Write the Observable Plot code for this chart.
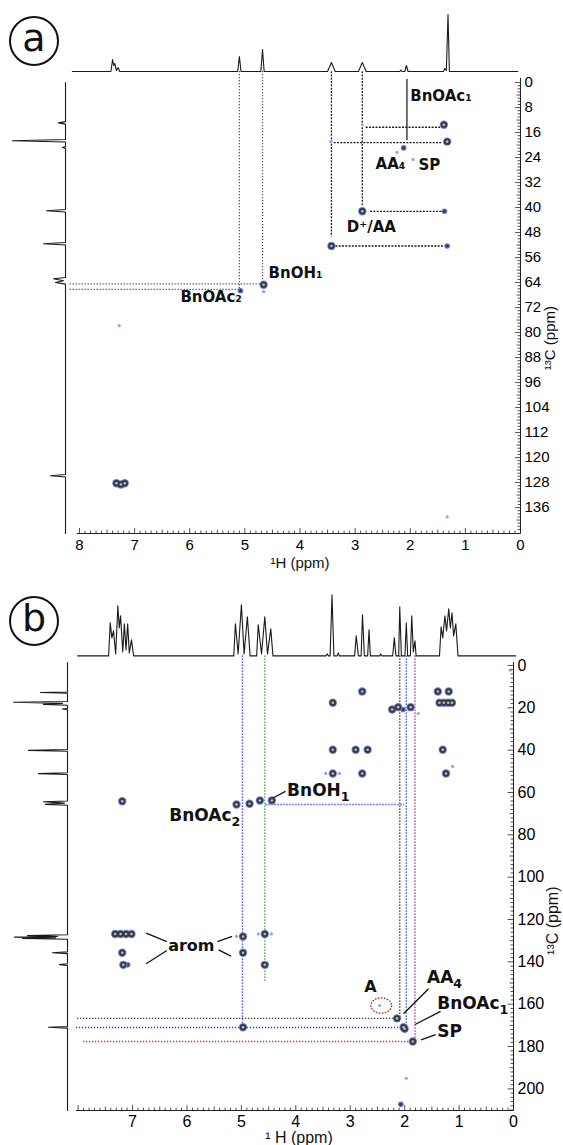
<!DOCTYPE html>
<html>
<head>
<meta charset="utf-8">
<script src="https://cdn.jsdelivr.net/npm/d3@7"></script>
<script src="https://cdn.jsdelivr.net/npm/@observablehq/plot@0.6"></script>
<style>
html,body{margin:0;padding:0;background:#fff;}
#wrap{position:relative;width:563px;height:1145px;overflow:hidden;background:#fff;}
.circ{position:absolute;box-sizing:border-box;width:50px;height:50px;border:2px solid #111;border-radius:50%;
 font-family:"DejaVu Sans",sans-serif;font-size:38px;color:#111;text-align:center;line-height:40px;}
</style>
</head>
<body>
<div id="wrap">
<div class="circ" style="left:9px;top:16px;">a</div>
<div class="circ" style="left:9px;top:596px;">b</div>
</div>
<script>
// ================= DATA : panel (a) =================
const a_xTickLabels = [8, 7, 6, 5, 4, 3, 2, 1, 0];
const a_yTickLabels = [0, 8, 16, 24, 32, 40, 48, 56, 64, 72, 80, 88, 96, 104, 112, 120, 128, 136];
// 1H projection (top): [ppm, intensity]
const a_topSpectrum = [[8.13,0],[7.43,0],[7.40,12],[7.38,6],[7.36,8],[7.33,1],[7.30,4],[7.27,0],
  [5.13,0],[5.10,15],[5.07,0],[4.71,0],[4.68,22],[4.65,0],[3.50,0],[3.43,9],[3.36,0],
  [2.94,0],[2.87,9],[2.80,0],[2.19,0],[2.17,1.5],[2.15,0],[2.10,0],[2.07,6],[2.04,0],
  [1.40,0],[1.37,3],[1.345,1],[1.315,57],[1.29,0],[0.05,0]];
// 13C projection (left): [ppm, intensity]
const a_leftSpectrum = [[0,0],[12.5,0],[12.9,7],[13.3,0],[18.2,0],[18.6,53],[19.0,0],[20.5,0],[20.8,3],[21.1,0],
  [40.6,0],[41.0,19],[41.4,0],[51.2,0],[51.6,22],[52.0,0],[62.4,0],[62.8,12],[63.4,2],[64.0,10],[64.5,0],
  [125.4,0],[125.8,15],[126.2,0],[144.3,0]];
// cross peaks: [1H ppm, 13C ppm, intensity level]
const a_peaks = [[1.39,13.5,3],[1.33,18.9,3],[2.12,20.9,2],[2.24,22.3,1],[1.95,24.6,1],[2.87,13.5,1],[3.44,18.9,1],
  [2.87,41.2,3],[1.38,41.2,2],[3.43,52.3,3],[1.33,52.3,2],[4.66,64.7,3],[4.66,66.9,1],[5.08,66.6,2],[7.28,77.8,1],
  [7.33,128.2,3],[7.25,128.6,3],[7.18,128.2,3],[1.33,139,1]];
// correlation guides
const a_dotV = [[5.10, 66.2], [4.68, 64.4]];               // [1H, 13C end]
const a_dotH = [[66.2, 5.10], [64.4, 4.68]];               // [13C, 1H end]
const a_dashV = [[3.43, 49.5], [2.87, 39.6]];              // [1H, 13C end]
const a_dashH = [[52.3, 3.35, 1.37], [41.2, 2.72, 1.42], [19.2, 3.38, 1.43], [14.3, 2.80, 1.45]];
const a_solidV = [[2.06, -1.0, 18.6]];
const a_labels = [["BnOAc₁", 2.00, 4.2], ["AA₄", 2.63, 26.0], ["SP", 1.85, 26.3], ["D⁺/AA", 3.15, 46.3],
  ["BnOH₁", 4.57, 61.1], ["BnOAc₂", 6.17, 68.7]];

// ================= DATA : panel (b) =================
const b_xTickLabels = [7, 6, 5, 4, 3, 2, 1, 0];
const b_yTickLabels = [0, 20, 40, 60, 80, 100, 120, 140, 160, 180, 200];
const b_topSpectrum = [[8.01,0],[7.44,0],[7.41,33],[7.38,18],[7.35,25],[7.31,2],[7.27,50],[7.245,28],[7.22,40],[7.18,4],
  [7.15,32],[7.12,6],[7.09,32],[7.06,3],[7.02,16],[6.98,0],
  [5.14,0],[5.11,32],[5.06,2],[5.00,51],[4.95,2],[4.89,39],[4.84,0],[4.72,0],[4.69,31],[4.63,2],[4.57,39],[4.52,2],[4.46,27],[4.42,0],
  [3.45,0],[3.42,2],[3.40,0],[3.37,0],[3.335,61],[3.30,0],[3.24,0],[3.22,3],[3.20,0],
  [2.92,0],[2.89,20],[2.85,0],[2.80,0],[2.775,41],[2.74,0],[2.68,0],[2.655,26],[2.63,0],
  [2.46,0],[2.44,2],[2.42,0],
  [2.22,0],[2.19,18],[2.16,0],[2.11,0],[2.09,49],[2.06,0],[1.995,0],[1.97,33],[1.945,0],[1.895,0],[1.87,40],[1.84,4],[1.81,15],[1.79,0],
  [1.36,0],[1.33,29],[1.30,18],[1.26,40],[1.23,25],[1.19,47],[1.16,28],[1.13,43],[1.10,20],[1.06,32],[1.02,0],[-0.04,0]];
const b_leftSpectrum = [[-1.4,0],[12.5,0],[12.8,27],[13.1,0],[17.0,0],[17.4,54],[17.9,5],[18.4,24],[18.8,0],[20.3,0],[20.6,5],[20.9,0],
  [39.7,0],[40.1,39],[40.5,0],[50.7,0],[51.1,29],[51.5,0],[64.0,0],[64.4,24],[65.0,3],[65.6,22],[66.0,0],
  [127.2,0],[127.6,40],[128.0,10],[128.3,53],[128.6,12],[128.9,45],[129.3,0],[135.3,0],[135.7,15],[136.1,0],
  [140.9,0],[141.3,8],[141.7,0],[170.5,0],[170.9,19],[171.3,0],[210.2,0]];
const b_peaks = [[7.19,64.1,3],[5.09,65.7,3],[4.85,65.3,3],[4.66,63.8,3],[4.44,63.8,3],
  [3.32,17.6,3],[2.78,12.3,3],[3.32,39.8,3],[2.90,39.8,3],[2.68,39.8,3],
  [3.32,51.0,3],[3.45,51.0,1],[3.20,51.0,1],[2.78,51.0,3],
  [2.23,20.8,3],[2.12,19.7,3],[2.03,20.8,2],[1.89,19.7,3],[1.75,22.7,1],
  [1.39,12.3,3],[1.19,12.3,3],[1.36,17.6,3],[1.28,17.6,3],[1.20,17.6,3],[1.13,17.6,3],
  [1.30,39.8,3],[1.24,51.0,3],[1.12,47.7,1],
  [7.32,126.8,3],[7.22,126.8,3],[7.12,126.8,3],[7.02,126.8,3],
  [7.19,135.7,3],[7.17,141.4,3],[7.09,141.4,2],
  [4.97,128.0,3],[5.09,128.0,1],[4.97,135.7,3],
  [4.57,126.8,3],[4.69,126.8,1],[4.45,126.8,1],[4.57,141.4,3],
  [4.97,170.9,3],[2.14,166.7,3],[2.02,170.9,3],[2.00,171.6,3],[1.85,177.6,3],
  [2.46,160.6,1],[1.97,195.0,1],[2.07,207.3,2],[0.06,2.2,1]];
// guides: group -> BnOAc (blue), BnOH (green), AA4 (black), SP (magenta)
const b_guideV = [[4.98,170.9,"BnOAc"],[4.57,150.0,"BnOH"],[2.09,166.7,"AA4"],[1.97,171.0,"BnOAc"],[1.81,177.6,"SP"]];
const b_guideH = [[65.7,4.55,2.00,"BnOAc"],[166.7,8.01,2.14,"AA4"],[171.0,8.03,2.02,"BnOAc"],[177.6,7.90,1.81,"SP"]];
const b_labelsStart = [["BnOH₁",4.16,59.0],["AA₄",1.59,147.4],["BnOAc₁",1.40,159.7],["SP",1.40,172.9]];
const b_labelsEnd = [["BnOAc₂",5.02,70.9]];
const b_labelsMid = [["arom",5.92,132.3],["A",2.63,152.0]];
const b_leaders = [[4.42,62.6,4.19,59.5],[6.75,126.4,6.37,130.4],[6.75,140.9,6.37,134.6],[5.44,130.4,5.17,128.0],
  [5.42,134.3,5.19,137.3],[1.56,152.7,2.02,164.5],[1.34,163.4,1.81,169.6],[1.43,174.4,1.70,176.8]];
const b_circled = [[2.43,160.6]];

// ================= RENDERING =================
const FONT_TICK = "'Liberation Sans', Arial, sans-serif";
const FONT_LAB = "'DejaVu Sans', sans-serif";
const groupColor = {BnOAc: "#2e2ef0", BnOH: "#2a9e2a", AA4: "#2a2a2a", SP: "#a01f98"};
const wrap = document.getElementById("wrap");
const baseStyle = {background: "transparent", overflow: "visible"};
function place(svg, top) {
  svg.style.position = "absolute"; svg.style.left = "0px"; svg.style.top = top + "px";
  wrap.appendChild(svg);
}
// render Unicode subscripts of panel (b) labels as larger lowered digits (still real text)
function enlargeSubs(svg) {
  const map = {"₁": "1", "₂": "2", "₄": "4"};
  svg.querySelectorAll("text").forEach(t => {
    const s = t.textContent;
    const m = s.match(/^(.*?)([₁₂₄]+)$/);
    if (!m || t.children.length) return;
    t.textContent = m[1];
    const ts = document.createElementNS("http://www.w3.org/2000/svg", "tspan");
    ts.setAttribute("font-size", "74%");
    ts.setAttribute("dy", "0.38em");
    ts.textContent = m[2].split("").map(c => map[c]).join("");
    t.appendChild(ts);
  });
  return svg;
}
const tickUp = {draw(c, l) { c.moveTo(0, 0); c.lineTo(0, -l); }};
const tickLeft = {draw(c, l) { c.moveTo(0, 0); c.lineTo(-l, 0); }};
const ellipseSym = {draw(c, size) {
  const r = Math.sqrt(size / Math.PI), rx = r * 1.15, ry = r * 0.85, k = 0.5523;
  c.moveTo(rx, 0);
  c.bezierCurveTo(rx, ry * k, rx * k, ry, 0, ry);
  c.bezierCurveTo(-rx * k, ry, -rx, ry * k, -rx, 0);
  c.bezierCurveTo(-rx, -ry * k, -rx * k, -ry, 0, -ry);
  c.bezierCurveTo(rx * k, -ry, rx, -ry * k, rx, 0);
  c.closePath();
}};
function xTickMarks(vals, yAt, len) {
  return Plot.vector(vals, {x: d => d, y: () => yAt, length: len, shape: tickUp, anchor: "start", stroke: "#222", strokeWidth: 0.8});
}
function yTickMarks(vals, xAt, len) {
  return Plot.vector(vals, {x: () => xAt, y: d => d, length: len, shape: tickLeft, anchor: "start", stroke: "#222", strokeWidth: 0.8});
}
function peakMarks(peaks) {
  const weak = peaks.filter(p => p[2] === 1), mid = peaks.filter(p => p[2] === 2), strong = peaks.filter(p => p[2] === 3);
  const o = {x: d => d[0], y: d => d[1]};
  return [
    Plot.dot(weak, {...o, r: 1.6, fill: "#8fa6ec"}),
    Plot.dot(mid, {...o, r: 2.8, fill: "#5b74de"}),
    Plot.dot(mid, {...o, r: 1.6, fill: "#3d3d4a"}),
    Plot.dot(strong, {...o, r: 4.2, fill: "#6a82e4"}),
    Plot.dot(strong, {...o, r: 3.2, fill: "#3a3a3a"}),
    Plot.dot(strong, {...o, r: 1.3, fill: "#bdbdbd"})
  ];
}
function steps(lo, hi, step) { const out = []; for (let i = Math.round(lo / step); i * step <= hi + 1e-9; i++) out.push(+(i * step).toFixed(4)); return out; }

// ---------- Panel (a) ----------
const A_X = [8, 0], A_Y = [-1.3, 144.3], A_TOPC = -3.5, A_LEFTH = 8.17;
const aM = {width: 563, height: 580, marginLeft: 79, marginRight: 43, marginTop: 78, marginBottom: 47};
const axMinor = steps(0, 8, 0.1);
const ayMinor = steps(0, 144, 1);
place(Plot.plot({
  ...aM, style: baseStyle,
  x: {domain: A_X}, y: {domain: A_Y, reverse: true},
  marks: [
    Plot.ruleX(a_dotV, {x: d => d[0], y1: A_TOPC, y2: d => d[1], stroke: "#222", strokeDasharray: "1,2", strokeWidth: 1.2}),
    Plot.ruleY(a_dotH, {y: d => d[0], x1: A_LEFTH, x2: d => d[1], stroke: "#222", strokeDasharray: "1,2", strokeWidth: 1.2}),
    Plot.ruleX(a_dashV, {x: d => d[0], y1: A_TOPC, y2: d => d[1], stroke: "#1a1a1a", strokeDasharray: "2,1.3", strokeWidth: 1.3}),
    Plot.ruleY(a_dashH, {y: d => d[0], x1: d => d[1], x2: d => d[2], stroke: "#1a1a1a", strokeDasharray: "2,1.3", strokeWidth: 1.3}),
    Plot.ruleX(a_solidV, {x: d => d[0], y1: d => d[1], y2: d => d[2], stroke: "#222", strokeWidth: 1.3}),
    ...peakMarks(a_peaks),
    Plot.text(a_labels, {x: d => d[1], y: d => d[2], text: d => d[0], textAnchor: "start", fontFamily: FONT_LAB, fontWeight: "bold", fontSize: 15, fill: "#111"}),
    Plot.ruleY([A_Y[1]], {x1: 8.04, x2: 0, stroke: "#222"}),
    Plot.ruleX([0], {y1: A_Y[0], y2: A_Y[1], stroke: "#222"}),
    xTickMarks(axMinor.filter(v => Math.abs(v * 2 - Math.round(v * 2)) > 1e-6), A_Y[1], 2.5),
    xTickMarks(axMinor.filter(v => Math.abs(v * 2 - Math.round(v * 2)) < 1e-6 && Math.abs(v - Math.round(v)) > 1e-6), A_Y[1], 3.5),
    xTickMarks(a_xTickLabels, A_Y[1], 5),
    yTickMarks(ayMinor.filter(v => v % 4 !== 0), 0, 2.5),
    yTickMarks(ayMinor.filter(v => v % 4 === 0 && v % 8 !== 0), 0, 3.5),
    yTickMarks(a_yTickLabels, 0, 5),
    Plot.axisX(a_xTickLabels, {anchor: "bottom", tickSize: 0, tickPadding: 6, fontSize: 15, fontFamily: FONT_TICK, label: null, tickFormat: d => String(d)}),
    Plot.axisY(a_yTickLabels, {anchor: "right", tickSize: 0, tickPadding: 4, fontSize: 15, fontFamily: FONT_TICK, label: null, tickFormat: d => String(d)}),
    Plot.text(["¹H (ppm)"], {frameAnchor: "bottom", dy: 34, text: d => d, fontSize: 15, fontFamily: FONT_TICK, fill: "#111"}),
    Plot.text(["¹³C (ppm)"], {frameAnchor: "right", dx: 30, rotate: -90, text: d => d, fontSize: 15, fontFamily: FONT_TICK, fill: "#111"})
  ]
}), 0);
place(Plot.plot({
  width: 563, height: 580, marginLeft: 79, marginRight: 43, marginTop: 11, marginBottom: 509, style: baseStyle,
  x: {domain: A_X, axis: null}, y: {domain: [0, 60], axis: null},
  marks: [Plot.line(a_topSpectrum, {x: d => d[0], y: d => d[1], stroke: "#1a1a1a", strokeWidth: 1.1})]
}), 0);
place(Plot.plot({
  width: 563, height: 580, marginLeft: 10, marginRight: 498, marginTop: 78, marginBottom: 47, style: baseStyle,
  x: {domain: [0, 55], reverse: true, axis: null}, y: {domain: A_Y, reverse: true, axis: null},
  marks: [Plot.line(a_leftSpectrum, {x: d => d[1], y: d => d[0], stroke: "#1a1a1a", strokeWidth: 1.1})]
}), 0);

// ---------- Panel (b) ----------
const B_X = [8.03, 0], B_Y = [-1.4, 210.2], B_TOPC = -4.5;
const bM = {width: 563, height: 565, marginLeft: 76, marginRight: 50, marginTop: 82, marginBottom: 35};
const bxMinor = steps(0, 8, 0.1);
const byMinor = steps(0, 210, 2);
place(enlargeSubs(Plot.plot({
  ...bM, style: baseStyle,
  x: {domain: B_X}, y: {domain: B_Y, reverse: true},
  marks: [
    Plot.ruleX(b_guideV, {x: d => d[0], y1: B_TOPC, y2: d => d[1], stroke: d => groupColor[d[2]], strokeDasharray: "1.2,1.8", strokeWidth: 1.4}),
    Plot.ruleY(b_guideH, {y: d => d[0], x1: d => d[1], x2: d => d[2], stroke: d => groupColor[d[3]], strokeDasharray: "1.2,1.8", strokeWidth: 1.4}),
    ...peakMarks(b_peaks),
    Plot.dot(b_circled, {x: d => d[0], y: d => d[1], r: 9, symbol: ellipseSym, stroke: "#b03030", strokeDasharray: "1.6,1.4", strokeWidth: 1.4, fill: "none"}),
    Plot.link(b_leaders, {x1: d => d[0], y1: d => d[1], x2: d => d[2], y2: d => d[3], stroke: "#111", strokeWidth: 1.3}),
    Plot.text(b_labelsStart, {x: d => d[1], y: d => d[2], text: d => d[0], textAnchor: "start", fontFamily: FONT_LAB, fontWeight: "bold", fontSize: 17, fill: "#111"}),
    Plot.text(b_labelsEnd, {x: d => d[1], y: d => d[2], text: d => d[0], textAnchor: "end", fontFamily: FONT_LAB, fontWeight: "bold", fontSize: 17, fill: "#111"}),
    Plot.text(b_labelsMid, {x: d => d[1], y: d => d[2], text: d => d[0], textAnchor: "middle", fontFamily: FONT_LAB, fontWeight: "bold", fontSize: 16, fill: "#111"}),
    Plot.ruleY([B_Y[1]], {x1: B_X[0], x2: 0, stroke: "#222"}),
    Plot.ruleX([0], {y1: B_Y[0], y2: B_Y[1], stroke: "#222"}),
    xTickMarks(bxMinor.filter(v => Math.abs(v * 2 - Math.round(v * 2)) > 1e-6), B_Y[1], 2.5),
    xTickMarks(bxMinor.filter(v => Math.abs(v * 2 - Math.round(v * 2)) < 1e-6 && Math.abs(v - Math.round(v)) > 1e-6), B_Y[1], 3.5),
    xTickMarks([8, ...b_xTickLabels], B_Y[1], 5),
    yTickMarks(byMinor.filter(v => v % 10 !== 0), 0, 2.5),
    yTickMarks(byMinor.filter(v => v % 10 === 0 && v % 20 !== 0), 0, 3.5),
    yTickMarks(b_yTickLabels, 0, 5.5),
    Plot.axisX(b_xTickLabels, {anchor: "bottom", tickSize: 0, tickPadding: 5, fontSize: 16, fontFamily: FONT_TICK, label: null, tickFormat: d => String(d)}),
    Plot.axisY(b_yTickLabels, {anchor: "right", tickSize: 0, tickPadding: 4, fontSize: 16, fontFamily: FONT_TICK, label: null, tickFormat: d => String(d)}),
    Plot.text(["¹ H (ppm)"], {frameAnchor: "bottom", dy: 32, dx: 4, text: d => d, fontSize: 16, fontFamily: FONT_TICK, fill: "#111"}),
    Plot.text(["¹³C (ppm)"], {frameAnchor: "right", dx: 39, rotate: -90, text: d => d, fontSize: 16, fontFamily: FONT_TICK, fill: "#111"})
  ]
})), 580);
place(Plot.plot({
  width: 563, height: 565, marginLeft: 76, marginRight: 50, marginTop: 13.4, marginBottom: 489.6, style: baseStyle,
  x: {domain: B_X, axis: null}, y: {domain: [0, 62], axis: null},
  marks: [Plot.line(b_topSpectrum, {x: d => d[0], y: d => d[1], stroke: "#1a1a1a", strokeWidth: 1.1})]
}), 580);
place(Plot.plot({
  width: 563, height: 565, marginLeft: 11, marginRight: 496, marginTop: 82, marginBottom: 35, style: baseStyle,
  x: {domain: [0, 56], reverse: true, axis: null}, y: {domain: B_Y, reverse: true, axis: null},
  marks: [Plot.line(b_leftSpectrum, {x: d => d[1], y: d => d[0], stroke: "#1a1a1a", strokeWidth: 1.1})]
}), 580);
</script>
</body>
</html>
